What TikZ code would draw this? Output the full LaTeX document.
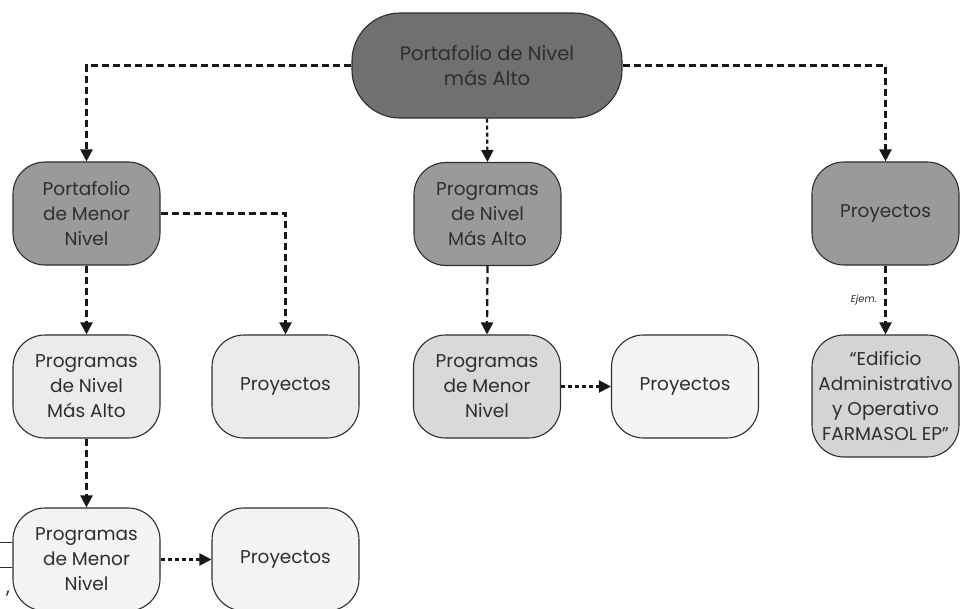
\documentclass[tikz,border=0pt]{standalone}
\usepackage{fontspec}
\setmainfont{Poppins}
\usetikzlibrary{arrows.meta}
\definecolor{ink}{HTML}{2E2E2E}
\definecolor{topfill}{HTML}{707070}
\definecolor{midfill}{HTML}{9A9A9A}
\definecolor{lightfill}{HTML}{EBEBEB}
\definecolor{softfill}{HTML}{D9D9D9}
\definecolor{palefill}{HTML}{F4F4F4}
\definecolor{exfill}{HTML}{D4D4D4}
\tikzset{
  box/.style={draw=ink, line width=1.1pt, rounded corners=32pt,
    minimum width=147pt, minimum height=103pt, inner sep=0pt,
    align=center, text=ink, font=\fontsize{18.5}{25}\selectfont},
  conn/.style={draw=black!90, line width=2.2pt, dash pattern=on 7pt off 4pt,
    -{Triangle[width=12pt,length=12pt]}},
  shortconn/.style={conn, dash pattern=on 4pt off 3pt}
}
\begin{document}
\begin{tikzpicture}[x=1pt,y=-1pt]
\useasboundingbox (0,0) rectangle (979,608);
\clip (0,0) rectangle (979,608);

% top level
\node[box, fill=topfill, minimum width=270pt, minimum height=105pt,
      rounded corners=48pt, font=\fontsize{19.5}{25}\selectfont] (top) at (487,65.5)
      {Portafolio de Nivel\\más Alto};

% first level
\node[box, fill=midfill] (pml) at (86.5,213.5) {Portafolio\\de Menor\\Nivel};
\node[box, fill=midfill] (pna) at (487.5,214) {Programas\\de Nivel\\Más Alto};
\node[box, fill=midfill] (pr) at (885.5,213.5) {Proyectos};

% second level
\node[box, fill=lightfill] (pna2) at (86.5,386.5) {Programas\\de Nivel\\Más Alto};
\node[box, fill=lightfill] (proy1) at (285.5,386.5) {Proyectos};
\node[box, fill=softfill] (pmn2) at (487,386.5) {Programas\\de Menor\\Nivel};
\node[box, fill=palefill] (proy2) at (685,386.5) {Proyectos};
\node[box, fill=exfill, minimum height=122pt] (edif) at (885.5,396)
  {“Edificio\\Administrativo\\y Operativo\\FARMASOL EP"};

% third level
\node[box, fill=palefill] (pmn3) at (86.5,559.5) {Programas\\de Menor\\Nivel};
\node[box, fill=palefill] (proy3) at (285.5,559.5) {Proyectos};

% connectors
\draw[conn] (top.west) -| (pml.north);
\draw[conn] (top.east) -| (pr.north);
\draw[shortconn] (top.south) -- (pna.north);
\draw[conn] (pml.east) -| (proy1.north);
\draw[conn] (pml.south) -- (pna2.north);
\draw[conn] (pna2.south) -- (pmn3.north);
\draw[shortconn] (pmn3.east) -- (proy3.west);
\draw[conn] (pna.south) -- (pmn2.north);
\draw[shortconn] (pmn2.east) -- (proy2.west);
\draw[conn] (pr.south) -- node[left=4pt, text=ink,
  font=\fontsize{10}{11}\selectfont\itshape] (ej) {Ejem.} (edif.north);

% marks along the left edge
\coordinate (m1a) at (0,542); \coordinate (m1b) at (12,542);
\coordinate (m2a) at (0,567); \coordinate (m2b) at (12,567);
\draw[line width=0.8pt, ink] (m1a) -- (m1b);
\draw[line width=0.8pt, ink] (m2a) -- (m2b);
\node[text=ink, font=\fontsize{20}{20}\selectfont, inner sep=0pt] (cm) at (8,594) {,};
\end{tikzpicture}
\end{document}
